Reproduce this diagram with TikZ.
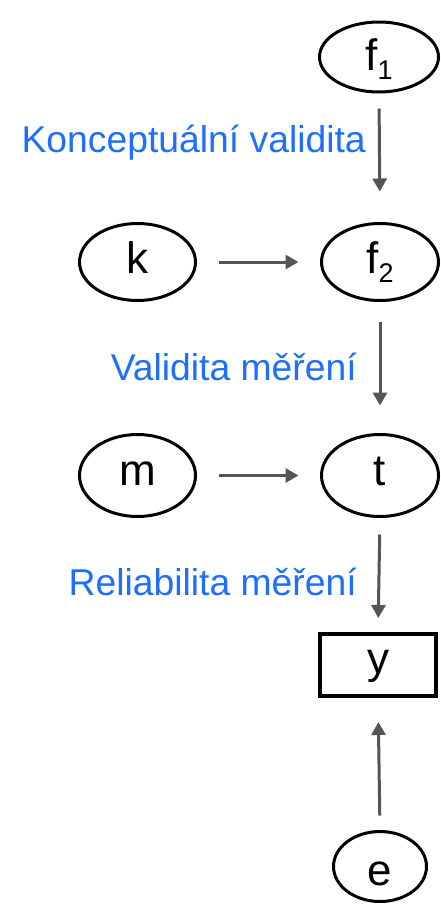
\documentclass[tikz,border=0pt]{standalone}
\usepackage{fontspec}
\setmainfont{Liberation Sans}
\usetikzlibrary{arrows.meta,shapes.geometric}
\definecolor{lblblue}{RGB}{30,110,255}
\definecolor{arrgray}{RGB}{85,85,85}
\newcommand{\sub}[1]{\raisebox{-9pt}{\fontsize{27}{27}\selectfont #1}}
\tikzset{
  var/.style={ellipse, draw=black, line width=3pt, inner sep=0pt, text depth=0pt,
    font=\fontsize{44}{44}\selectfont},
  obs/.style={rectangle, draw=black, line width=4pt, inner sep=0pt, text depth=0pt,
    minimum width=116pt, minimum height=62pt, font=\fontsize{44}{44}\selectfont},
  conn/.style={draw=arrgray, line width=3pt, -{Triangle[length=13pt,width=14pt]}},
  lbl/.style={text=lblblue, inner sep=0pt, anchor=base east, font=\fontsize{37.3}{40}\selectfont}
}
\begin{document}
\begin{tikzpicture}[x=1pt,y=-1pt]
\useasboundingbox (0,0) rectangle (441,913);
\node[var, minimum width=119pt, minimum height=70pt, text height=27pt] (f1) at (379,57) {f\sub{1}};
\node[var, minimum width=116pt, minimum height=77pt, text height=22.6pt] (k) at (137.5,262) {k};
\node[var, minimum width=117pt, minimum height=77pt, text height=22.6pt] (f2) at (380,262) {f\sub{2}};
\node[var, minimum width=116pt, minimum height=82pt, text height=19pt] (m) at (137.5,475.5) {m};
\node[var, minimum width=117pt, minimum height=82pt, text height=19pt] (t) at (380,475.5) {t};
\node[obs, text height=16pt] (y) at (378,665) {y};
\node[var, minimum width=93pt, minimum height=70pt, text height=37pt] (e) at (380,866.5) {e};
\node[lbl] (l1) at (366,152) {Konceptuální validita};
\node[lbl] (l2) at (357,380) {Validita měření};
\node[lbl] (l3) at (357,595) {Reliabilita měření};
\draw[conn, shorten <=15pt, shorten >=30.5pt] (f1.south) -- (f2.north);
\draw[conn, shorten <=21.5pt, shorten >=21.5pt] (k.east) -- (f2.west);
\draw[conn, shorten <=19.5pt, shorten >=27.5pt] (f2.south) -- (t.north);
\draw[conn, shorten <=21.5pt, shorten >=21.5pt] (m.east) -- (t.west);
\draw[conn, shorten <=16.5pt, shorten >=14pt] (t.south) -- (y.north);
\draw[conn, shorten <=14.5pt, shorten >=24pt] (e.north) -- (y.south);
\end{tikzpicture}
\end{document}
